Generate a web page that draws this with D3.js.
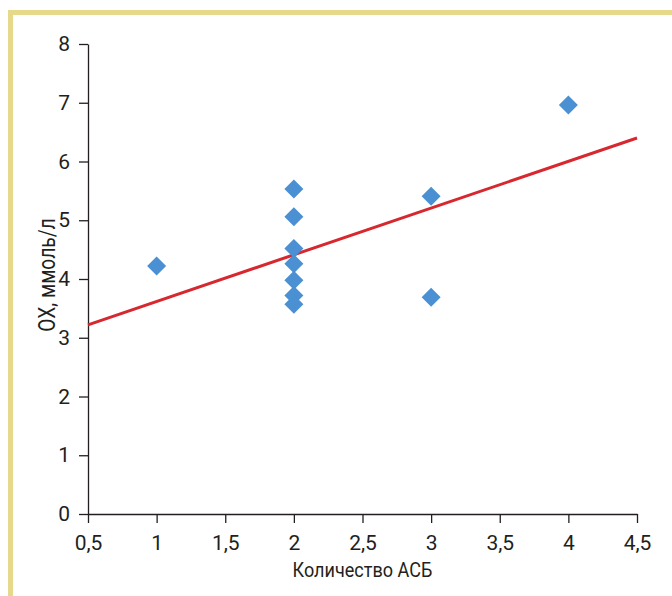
<!DOCTYPE html>
<html>
<head>
<meta charset="utf-8">
<script src="https://cdn.jsdelivr.net/npm/d3@7"></script>
<style>
  body { margin: 0; background: #fff; }
  text { font-family: Roboto, "Liberation Sans", sans-serif; fill: #231f20; }
</style>
</head>
<body>
<div id="chart"></div>
<script>
// data
const countASB = [1, 2, 2, 2, 2, 2, 2, 2, 3, 3, 4];
const cholesterol = [4.22, 5.53, 5.06, 4.52, 4.26, 3.98, 3.72, 3.57, 5.41, 3.69, 6.96];
const trendX = [0.5, 4.5];
const trendY = [3.22, 6.40];
const xTicks = [0.5, 1, 1.5, 2, 2.5, 3, 3.5, 4, 4.5];
const yTicks = [0, 1, 2, 3, 4, 5, 6, 7, 8];

const width = 672, height = 596;
const margin = { top: 44, right: 35, bottom: 82, left: 88 };
const squeeze = 0.86; // titles are set in a condensed face

const svg = d3.select("#chart").append("svg")
  .attr("width", width)
  .attr("height", height);

// yellow frame, open to the right and bottom
svg.append("rect")
  .attr("x", 10.5).attr("y", 12.5)
  .attr("width", 700).attr("height", 700)
  .attr("fill", "none")
  .attr("stroke", "#e6d98b")
  .attr("stroke-width", 5);

const x = d3.scaleLinear().domain([0.5, 4.5]).range([margin.left, width - margin.right]);
const y = d3.scaleLinear().domain([0, 8]).range([height - margin.bottom, margin.top]);

const fmt = d => String(d).replace(".", ",");

svg.append("g")
  .attr("transform", `translate(0,${y(0)})`)
  .call(d3.axisBottom(x).tickValues(xTicks).tickFormat(fmt).tickSize(9).tickPadding(12).tickSizeOuter(0));

svg.append("g")
  .attr("transform", `translate(${x(0.5)},0)`)
  .call(d3.axisLeft(y).tickValues(yTicks).tickSize(9).tickPadding(9).tickSizeOuter(0));

svg.selectAll(".domain").attr("stroke", "#231f20").attr("stroke-width", 1.3);
svg.selectAll(".tick line").attr("stroke", "#231f20").attr("stroke-width", 1.3);
svg.selectAll(".tick text").attr("font-size", 21).attr("fill", "#231f20");

// trend line
svg.append("line")
  .attr("x1", x(trendX[0])).attr("y1", y(trendY[0]))
  .attr("x2", x(trendX[1])).attr("y2", y(trendY[1]))
  .attr("stroke", "#d7282f")
  .attr("stroke-width", 3);

// diamonds
const pts = countASB.map((v, i) => ({ x: v, y: cholesterol[i] }));
svg.append("g")
  .selectAll("path")
  .data(pts)
  .enter().append("path")
  .attr("transform", d => `translate(${x(d.x)},${y(d.y)})`)
  .attr("d", "M0,-9.5L9.5,0L0,9.5L-9.5,0Z")
  .attr("fill", "#4a90d2");

// axis titles
svg.append("text")
  .attr("transform", `translate(${(x(0.5) + x(4.5)) / 2},577) scale(${squeeze},1)`)
  .attr("text-anchor", "middle")
  .attr("font-size", 21)
  .text("Количество АСБ");

svg.append("text")
  .attr("transform", `translate(55,275) rotate(-90) scale(0.8,1)`)
  .attr("text-anchor", "middle")
  .attr("font-size", 24)
  .text("ОХ, ммоль/л");
</script>
</body>
</html>
